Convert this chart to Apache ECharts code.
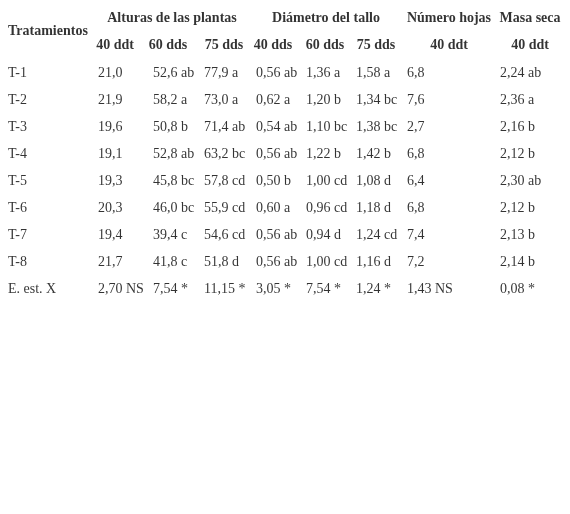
<!DOCTYPE html>
<html>
<head>
<meta charset="utf-8">
<style>html,body{margin:0;padding:0;background:#fff}</style>
</head>
<body>
<div id="box" style="width:570px;height:514px"></div>
<script src="https://cdn.jsdelivr.net/npm/echarts@6/dist/echarts.min.js"></script>
<script>
var groupHeaders = ['Alturas de las plantas', 'Diámetro del tallo', 'Número hojas', 'Masa seca'];
var subHeaders = ['40 ddt', '60 dds', '75 dds', '40 dds', '60 dds', '75 dds', '40 ddt', '40 ddt'];
var treatments = ['T-1', 'T-2', 'T-3', 'T-4', 'T-5', 'T-6', 'T-7', 'T-8', 'E. est. X'];
var h40 = ['21,0', '21,9', '19,6', '19,1', '19,3', '20,3', '19,4', '21,7', '2,70 NS'];
var h60 = ['52,6 ab', '58,2 a', '50,8 b', '52,8 ab', '45,8 bc', '46,0 bc', '39,4 c', '41,8 c', '7,54 *'];
var h75 = ['77,9 a', '73,0 a', '71,4 ab', '63,2 bc', '57,8 cd', '55,9 cd', '54,6 cd', '51,8 d', '11,15 *'];
var d40 = ['0,56 ab', '0,62 a', '0,54 ab', '0,56 ab', '0,50 b', '0,60 a', '0,56 ab', '0,56 ab', '3,05 *'];
var d60 = ['1,36 a', '1,20 b', '1,10 bc', '1,22 b', '1,00 cd', '0,96 cd', '0,94 d', '1,00 cd', '7,54 *'];
var d75 = ['1,58 a', '1,34 bc', '1,38 bc', '1,42 b', '1,08 d', '1,18 d', '1,24 cd', '1,16 d', '1,24 *'];
var leaves = ['6,8', '7,6', '2,7', '6,8', '6,4', '6,8', '7,4', '7,2', '1,43 NS'];
var dryMass = ['2,24 ab', '2,36 a', '2,16 b', '2,12 b', '2,30 ab', '2,12 b', '2,13 b', '2,14 b', '0,08 *'];

// layout (pixels)
var colX = [8, 98, 153, 204, 256, 306, 356, 407, 500];
var rowY0 = 73, rowStep = 27;
var groupX = [172, 326, 449, 530];
var subX = [115, 168, 224, 273, 325, 376, 449, 530];

var columns = [treatments, h40, h60, h75, d40, d60, d75, leaves, dryMass];
var bodyData = [];
columns.forEach(function (col, c) {
  col.forEach(function (v, r) { bodyData.push([colX[c], rowY0 + r * rowStep, v]); });
});
var headData = groupHeaders.map(function (t, i) { return [groupX[i], 18, t]; })
  .concat(subHeaders.map(function (t, i) { return [subX[i], 45, t]; }));

var font = '"Liberation Serif", "DejaVu Serif", serif';
var chart = echarts.init(document.getElementById('box'));
chart.setOption({
  animation: false,
  grid: {left: 0, right: 0, top: 0, bottom: 0},
  xAxis: {type: 'value', min: 0, max: 570, show: false},
  yAxis: {type: 'value', min: 0, max: 514, inverse: true, show: false},
  series: [
    {
      type: 'scatter', symbolSize: 0, data: bodyData,
      label: {show: true, position: 'right', distance: 0, color: '#000',
        fontFamily: font, fontSize: 14, formatter: function (p) { return p.data[2]; }}
    },
    {
      type: 'scatter', symbolSize: 0, data: headData,
      label: {show: true, position: 'inside', color: '#000', fontWeight: 'bold',
        fontFamily: font, fontSize: 14, formatter: function (p) { return p.data[2]; }}
    },
    {
      type: 'scatter', symbolSize: 0, data: [[8, 31, 'Tratamientos']],
      label: {show: true, position: 'right', distance: 0, color: '#000', fontWeight: 'bold',
        fontFamily: font, fontSize: 14, formatter: function (p) { return p.data[2]; }}
    }
  ]
});
</script>
</body>
</html>
